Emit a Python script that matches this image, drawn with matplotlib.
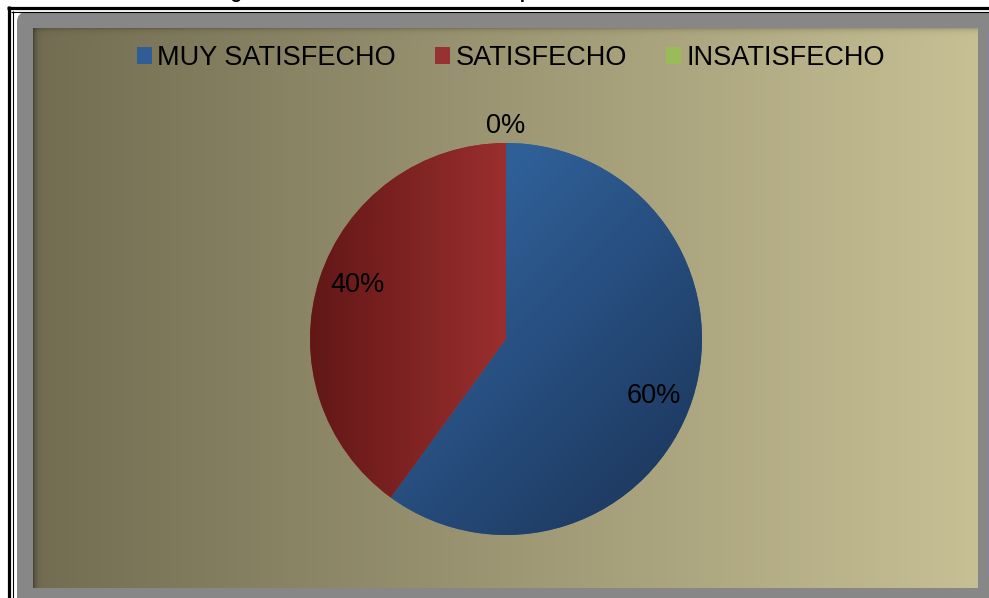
import numpy as np
import matplotlib.pyplot as plt
from matplotlib.patches import FancyBboxPatch, Patch
from matplotlib.colors import to_rgb

plt.rcParams['font.family'] = ['Liberation Sans', 'DejaVu Sans']

# data
categories = ['MUY SATISFECHO', 'SATISFECHO', 'INSATISFECHO']
values = [60, 40, 0]
legend_colors = ['#2f5e96', '#963332', '#9bbb59']
title = 'Figura 1. Nivel de satisfacción del paciente'

W, H = 989, 598


def hgrad(c0, c1, n=256):
    c0, c1 = np.array(to_rgb(c0)), np.array(to_rgb(c1))
    t = np.linspace(0, 1, n)[None, :, None]
    return c0 + (c1 - c0) * t


fig = plt.figure(figsize=(W / 100, H / 100), dpi=100, facecolor='white')

# ── frame / background in pixel coordinates ─────────────────────────────────
bg = fig.add_axes([0, 0, 1, 1])
bg.set_xlim(0, W)
bg.set_ylim(H, 0)
bg.axis('off')

# cropped title (only the descenders peek in)
fig.text(214 / W, 1 + 1.5 / H, title, fontsize=13.5, fontweight='bold',
         ha='left', va='baseline')

# double black border (top + left)
bg.plot([7, W], [7.5, 7.5], color='black', lw=2.3, solid_capstyle='butt')
bg.plot([11, W], [11.5, 11.5], color='black', lw=0.8, solid_capstyle='butt')
bg.plot([8.5, 8.5], [6, H], color='black', lw=2.3, solid_capstyle='butt')
bg.plot([12.5, 12.5], [11, H], color='black', lw=0.8, solid_capstyle='butt')

# gray rounded chart panel
bg.add_patch(FancyBboxPatch((17, 12), 1000, 620,
                            boxstyle='round,pad=0,rounding_size=10',
                            facecolor='#878787', edgecolor='none'))

# plot area with horizontal gradient and a soft inner shadow
x0, x1, y0, y1 = 33, 978, 28, 588
pw, ph = x1 - x0, y1 - y0
grad = hgrad('#726d52', '#c7c095', pw)
grad = np.repeat(grad, ph, axis=0)
xs = np.arange(pw)[None, :, None]
ys = np.arange(ph)[:, None, None]
shade = (1 - 0.35 * np.exp(-xs / 3.0)) * (1 - 0.18 * np.exp(-ys / 2.5))
bg.imshow(np.clip(grad * shade, 0, 1), extent=[x0, x1, y1, y0],
          aspect='auto', interpolation='bilinear', zorder=2)

# ── pie ─────────────────────────────────────────────────────────────────────
cx, cy, half = 506, 339, 200
pa = fig.add_axes([(cx - half) / W, (H - cy - half) / H, 2 * half / W, 2 * half / H])

wedges, texts, autotexts = pa.pie(
    values, colors=legend_colors, startangle=90, counterclock=False,
    radius=0.98, autopct='%1.0f%%', pctdistance=0.79,
    textprops=dict(fontsize=19.5, color='black'))

# gradient fills clipped to the wedges
gx, gy = np.meshgrid(np.linspace(-1, 1, 300), np.linspace(1, -1, 300))
blue0, blue1 = np.array(to_rgb('#2f5f97')), np.array(to_rgb('#1b355a'))
t = np.clip(((gx + 0.2) - (gy - 0.6)) / 2.6, 0, 1)[..., None]
blue_img = blue0 + (blue1 - blue0) * t
red0, red1 = np.array(to_rgb('#621717')), np.array(to_rgb('#9a2f2e'))
t = np.clip((gx + 0.98) / 0.98, 0, 1)[..., None]
red_img = red0 + (red1 - red0) * t

for wedge, img in zip(wedges[:2], [blue_img, red_img]):
    im = pa.imshow(img, extent=[-1, 1, -1, 1], zorder=1.5, interpolation='bilinear')
    im.set_clip_path(wedge)
for at in autotexts:
    at.set_zorder(3)

# label angles a little off the slice middle, as the original layout has them
for i, (at, dang) in enumerate(zip(autotexts[:2], [-3, -2])):
    w = wedges[i]
    a = np.deg2rad((w.theta1 + w.theta2) / 2 + dang)
    at.set_position((0.79 * np.cos(a), 0.79 * np.sin(a)))

# zero slice label sits just outside the pie
theta = np.deg2rad((wedges[2].theta1 + wedges[2].theta2) / 2)
autotexts[2].set_position((1.065 * np.cos(theta), 1.065 * np.sin(theta)))

pa.set_xlim(-1, 1)
pa.set_ylim(-1, 1)
pa.set_aspect('equal')
pa.axis('off')

# ── legend ──────────────────────────────────────────────────────────────────
handles = [Patch(facecolor=c, edgecolor='none') for c in legend_colors]
fig.legend(handles, categories, loc='center', ncol=3, frameon=False,
           bbox_to_anchor=(511 / W, 1 - 58 / H), fontsize=19.5,
           handlelength=0.55, handleheight=0.55, handletextpad=0.2,
           columnspacing=1.45, borderpad=0)

fig.savefig('out.png', dpi=100, facecolor='white')
